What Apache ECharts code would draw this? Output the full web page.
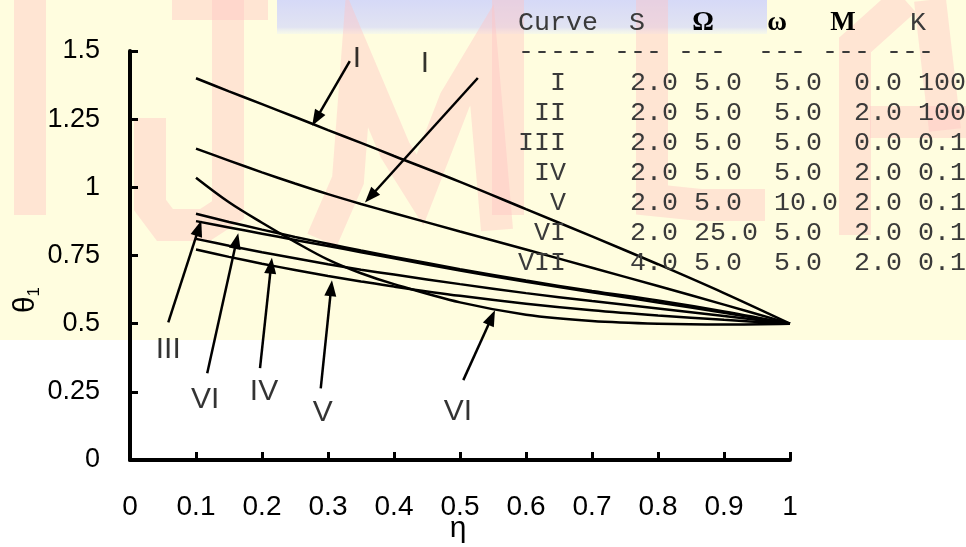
<!DOCTYPE html>
<html><head><meta charset="utf-8">
<script src="https://cdn.jsdelivr.net/npm/echarts@6/dist/echarts.min.js"></script>
<style>html,body{margin:0;padding:0;background:#fff}#c{width:966px;height:547px}</style>
</head><body><div id="c"></div>
<script>
// ---- data ----
const eta = [0.1,0.15,0.2,0.25,0.3,0.35,0.4,0.5,0.6,0.7,0.8,0.9,1.0];
const curveI   = [1.400,1.352,1.305,1.258,1.210,1.163,1.115,1.020,0.920,0.820,0.718,0.612,0.5];
const curveII  = [1.142,1.098,1.055,1.014,0.975,0.939,0.905,0.838,0.772,0.705,0.638,0.570,0.5];
const curveIII = [0.903,0.873,0.845,0.818,0.793,0.768,0.745,0.700,0.658,0.620,0.585,0.545,0.5];
const curveVII = [0.876,0.853,0.830,0.807,0.785,0.762,0.740,0.695,0.654,0.615,0.578,0.540,0.5];
const curveIV  = [0.811,0.786,0.762,0.740,0.718,0.698,0.680,0.645,0.612,0.583,0.556,0.528,0.5];
const curveV   = [0.772,0.745,0.720,0.697,0.675,0.655,0.636,0.602,0.573,0.549,0.530,0.514,0.5];
const curveVI  = [1.035,0.945,0.870,0.800,0.735,0.685,0.645,0.578,0.533,0.510,0.500,0.497,0.5];
const xTicks = [0,0.1,0.2,0.3,0.4,0.5,0.6,0.7,0.8,0.9,1];
const yTicks = [0,0.25,0.5,0.75,1,1.25,1.5];
// annotation labels: [name, labelX, labelY, tailX, tailY, tipX, tipY]
const annotations = [
  ['I',   0.344,1.471, 0.333,1.463, 0.276,1.226],
  ['I',   0.447,1.453, 0.527,1.401, 0.356,0.944],
  ['III', 0.058,0.405, 0.058,0.505, 0.108,0.878],
  ['VI',  0.114,0.220, 0.117,0.318, 0.164,0.832],
  ['IV',  0.203,0.249, 0.197,0.337, 0.215,0.742],
  ['V',   0.292,0.172, 0.289,0.263, 0.306,0.659],
  ['VI',  0.497,0.176, 0.505,0.293, 0.553,0.549]
];
// parameter table
const tableHeader = ['Curve','S','\u03A9','\u03C9','M','K'];
const tableRows = [
  ['I','2.0','5.0','5.0','0.0','100'],
  ['II','2.0','5.0','5.0','2.0','100'],
  ['III','2.0','5.0','5.0','0.0','0.1'],
  ['IV','2.0','5.0','5.0','2.0','0.1'],
  ['V','2.0','5.0','10.0','2.0','0.1'],
  ['VI','2.0','25.0','5.0','2.0','0.1'],
  ['VII','4.0','5.0','5.0','2.0','0.1']
];

// ---- build ----
const curves = [curveI,curveII,curveIII,curveIV,curveV,curveVI,curveVII];
const names = ['I','II','III','IV','V','VI','VII'];
const fmt = v => String(+(+v).toFixed(2));
const SANS = '"Liberation Sans", Arial, sans-serif';

const colPos = [7,11,16,21,25];
function rowString(r){
  let s = r[0].padStart(3,' ');
  for (let i=1;i<r.length;i++){ s = s.padEnd(colPos[i-1],' ') + r[i]; }
  return s;
}
const MONO = '26.67px "Liberation Mono", "DejaVu Sans Mono", monospace';
const tableColor = '#3a3a3a';
const graphics = [
  {type:'rect', z:-100, silent:true, shape:{x:0,y:0,width:966,height:340}, style:{fill:'#FFFDDF'}},
  {type:'rect', z:-99, silent:true, shape:{x:277,y:0,width:490,height:34},
    style:{fill:new echarts.graphic.LinearGradient(0,0,0,1,[{offset:0,color:'rgba(200,205,255,0.75)'},{offset:0.8,color:'rgba(205,210,255,0.6)'},{offset:1,color:'rgba(230,240,255,0.3)'}])}},
];
const pink = 'rgba(255,195,195,0.42)';
const strokes = [
  [[30,0],[30,215]],
  [[228,0],[228,210],[205,225],[165,225],[150,205],[150,118]],
  [[172,4],[268,4]],
  [[322,240],[348,180],[357,60],[395,150],[420,190],[455,100],[482,55],[497,230]],
  [[508,0],[508,215]],
  [[652,0],[652,200],[700,205],[765,205]],
  [[855,235],[855,45],[905,0]],
  [[870,122],[966,122]],
  [[930,0],[945,130]]
];
strokes.forEach(p=>graphics.push({type:'polyline', z:-98, silent:true, shape:{points:p}, style:{stroke:pink, lineWidth:32, fill:null, lineJoin:'miter'}}));

// table header
const headerX = [518,637,703,777,843,918];
tableHeader.forEach((h,i)=>{
  const serif = (i===2||i===3||i===4);
  graphics.push({type:'text', z:10, x:headerX[i], y:23, style:{
    text:h, fill: serif ? '#000' : tableColor,
    font: serif ? 'bold 27px "Liberation Serif", "DejaVu Serif", serif' : MONO,
    textAlign: i===0 ? 'left' : 'center', textVerticalAlign:'middle'}});
});
graphics.push({type:'text', z:10, x:518, y:52, style:{text:'----- --- ---  --- --- ---', font:MONO, fill:tableColor, textAlign:'left', textVerticalAlign:'middle'}});
tableRows.forEach((r,i)=>{
  graphics.push({type:'text', z:10, x:518, y:83+30*i, style:{text:rowString(r), font:MONO, fill:tableColor, textAlign:'left', textVerticalAlign:'middle'}});
});
// axis names
graphics.push({type:'text', z:10, x:26, y:300, rotation:Math.PI/2, style:{
  rich:{a:{font:'30px '+SANS, fill:'#000'}, b:{font:'17px '+SANS, fill:'#000', padding:[16,0,0,0]}},
  text:'{a|\u03B8}{b|1}', textAlign:'center', textVerticalAlign:'middle'}});
graphics.push({type:'text', z:10, x:458, y:514, style:{
  text:'\u03B7', font:'30px '+SANS, fill:'#000', textAlign:'center', textVerticalAlign:'top'}});

const series = curves.map((c,k)=>({
  type:'line', name:names[k], smooth:0.35, showSymbol:false, symbol:'none',
  lineStyle:{color:'#000', width:2.5}, z:3,
  data: eta.map((x,i)=>[x,c[i]])
}));
// arrows drawn through the axis scales
series.push({
  type:'custom', z:4, silent:true,
  encode:{x:[0,2], y:[1,3]},
  data: annotations.map(a=>[a[3],a[4],a[5],a[6]]),
  renderItem:(params, api)=>{
    const t = api.coord([api.value(0), api.value(1)]);
    const h = api.coord([api.value(2), api.value(3)]);
    const dx = h[0]-t[0], dy = h[1]-t[1];
    const L = Math.sqrt(dx*dx+dy*dy), ux = dx/L, uy = dy/L;
    const len = 16, hw = 6;
    const bx = h[0]-ux*len, by = h[1]-uy*len;
    return {type:'group', children:[
      {type:'line', shape:{x1:t[0], y1:t[1], x2:bx+ux*2, y2:by+uy*2}, style:{stroke:'#000', lineWidth:2.5}},
      {type:'polygon', shape:{points:[[h[0],h[1]],[bx-uy*hw, by+ux*hw],[bx+uy*hw, by-ux*hw]]}, style:{fill:'#000'}}
    ]};
  }
});
series.push({
  type:'scatter', symbolSize:0, z:5, silent:true,
  data: annotations.map(a=>({name:a[0], value:[a[1],a[2]]})),
  label:{show:true, position:'inside', formatter:'{b}', color:'#000', fontSize:30, fontFamily:SANS}
});

const chart = echarts.init(document.getElementById('c'), null, {renderer:'canvas'});
chart.setOption({
  animation:false,
  backgroundColor:'transparent',
  grid:{left:130, right:176, top:51, bottom:87, containLabel:false, outerBoundsMode:'none'},
  xAxis:{type:'value', min:xTicks[0], max:xTicks[xTicks.length-1], interval:0.1,
    axisLine:{show:true, onZero:false, lineStyle:{color:'#000', width:4}},
    axisTick:{show:true, inside:true, length:8, lineStyle:{color:'#000', width:3}},
    axisLabel:{margin:33, fontSize:28, color:'#000', fontFamily:SANS, formatter:fmt},
    splitLine:{show:false}},
  yAxis:{type:'value', min:yTicks[0], max:yTicks[yTicks.length-1], interval:0.25,
    axisLine:{show:true, onZero:false, lineStyle:{color:'#000', width:4}},
    axisTick:{show:true, inside:true, length:8, lineStyle:{color:'#000', width:3}},
    axisLabel:{margin:30, fontSize:27, color:'#000', fontFamily:SANS, formatter:fmt},
    splitLine:{show:false}},
  graphic:{elements:graphics},
  series: series
});
</script></body></html>
